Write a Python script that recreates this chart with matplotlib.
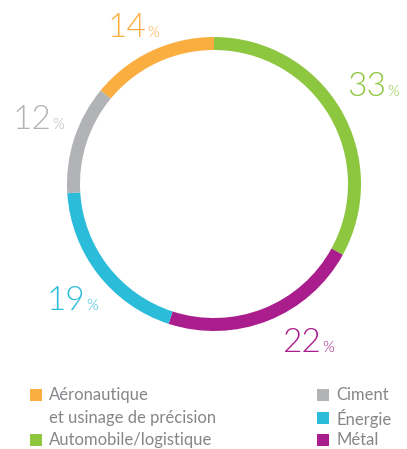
import matplotlib
matplotlib.use("Agg")
import matplotlib.pyplot as plt
from matplotlib.patches import Rectangle

categories = ["Automobile/logistique", "Métal", "Énergie", "Ciment", "Aéronautique\net usinage de précision"]
values = [33, 22, 19, 12, 14]
colors = ["#8DC63F", "#A91E8C", "#2ABCD8", "#B2B3B6", "#FBAE40"]
label_pos = [(386, 96), (321, 352), (85, 310), (51, 129), (146, 37)]

W, H = 407, 449
fig = plt.figure(figsize=(W/100, H/100), dpi=100)
ax = fig.add_axes([0, 0, 1, 1])
ax.set_xlim(0, W)
ax.set_ylim(0, H)
ax.set_aspect('equal')
ax.axis('off')

cx, cy, R = 214, H - 184, 147
ax.pie(values, colors=colors, startangle=90, counterclock=False,
       radius=R, center=(cx, cy), frame=True,
       wedgeprops=dict(width=13, linewidth=0))
ax.set_xlim(0, W)
ax.set_ylim(0, H)
ax.axis('off')

fam = ['Lato', 'DejaVu Sans']
for v, c, (x, y) in zip(values, colors, label_pos):
    ax.text(x, H - y, f"{v}", color=c, fontsize=24, family=fam,
            fontweight=300, ha='right', va='baseline')
    ax.text(x + 1, H - y, "%", color=c, fontsize=11, family=fam,
            fontweight=300, ha='left', va='baseline')

text_col = "#858689"
legend_items = [
    ("Aéronautique", "#FBAE40", 30, 395),
    ("Automobile/logistique", "#8DC63F", 30, 440),
    ("Ciment", "#B2B3B6", 317, 395),
    ("Énergie", "#2ABCD8", 317, 418),
    ("Métal", "#A91E8C", 317, 440),
]
for lab, c, x, y in legend_items:
    ax.add_patch(Rectangle((x, H - y - 6), 12, 12, color=c, lw=0))
    ax.text(x + 19, H - y, lab, color=text_col, fontsize=12, family=fam,
            ha='left', va='center')
ax.text(49, H - 418, "et usinage de précision", color=text_col, fontsize=12,
        family=fam, ha='left', va='center')

fig.savefig("out.png", dpi=100)
